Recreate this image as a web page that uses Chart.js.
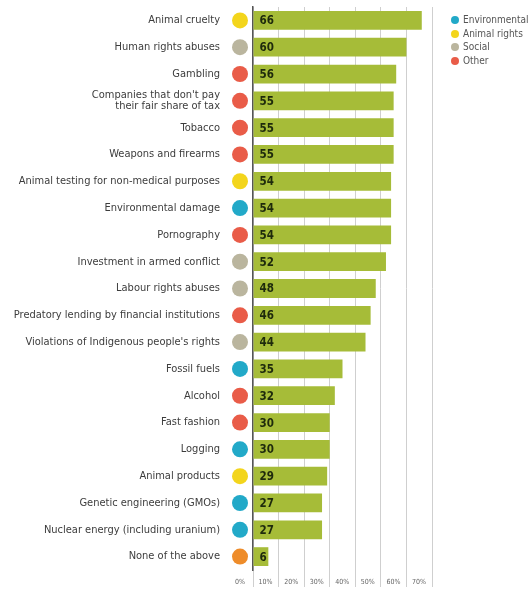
<!DOCTYPE html>
<html>
<head>
<meta charset="utf-8">
<script src="https://cdn.jsdelivr.net/npm/chart.js@4"></script>
<style>
  html, body { margin: 0; padding: 0; background: #fff; }
  #wrap { position: relative; width: 529px; height: 592px; overflow: hidden; }
  #legend { position: absolute; left: 451px; top: 13px; font: condensed 10px "DejaVu Sans", sans-serif; font-stretch: condensed; color: #555; }
  #legend div { height: 13.5px; line-height: 13.5px; white-space: nowrap; }
  #legend span { display: inline-block; width: 8px; height: 8px; border-radius: 50%; margin-right: 4px; vertical-align: -1px; }
</style>
</head>
<body>
<div id="wrap">
  <canvas id="chart" width="529" height="592"></canvas>
  <div id="legend"></div>
</div>
<script>
// Kategorier, värden och grupp per rad
const categories = [
  'Animal cruelty', 'Human rights abuses', 'Gambling',
  ["Companies that don't pay", 'their fair share of tax'],
  'Tobacco', 'Weapons and firearms', 'Animal testing for non-medical purposes',
  'Environmental damage', 'Pornography', 'Investment in armed conflict',
  'Labour rights abuses', 'Predatory lending by financial institutions',
  "Violations of Indigenous people's rights", 'Fossil fuels', 'Alcohol',
  'Fast fashion', 'Logging', 'Animal products', 'Genetic engineering (GMOs)',
  'Nuclear energy (including uranium)', 'None of the above'
];
const values = [66, 60, 56, 55, 55, 55, 54, 54, 54, 52, 48, 46, 44, 35, 32, 30, 30, 29, 27, 27, 6];
const groups = ['Animal rights', 'Social', 'Other', 'Other', 'Other', 'Other', 'Animal rights',
  'Environmental', 'Other', 'Social', 'Social', 'Other', 'Social', 'Environmental', 'Other',
  'Other', 'Environmental', 'Animal rights', 'Environmental', 'Environmental', 'None'];
const xTicks = [0, 10, 20, 30, 40, 50, 60, 70];

const legendNames = ['Environmental', 'Animal rights', 'Social', 'Other'];
const groupColors = {
  'Environmental': '#22a9c8',
  'Animal rights': '#f3d51c',
  'Social': '#bab59e',
  'Other': '#e95c48',
  'None': '#ee8c2a'
};

const FONT = '"DejaVu Sans", sans-serif';

// HTML-legend uppe till höger
const legendEl = document.getElementById('legend');
legendNames.forEach(name => {
  const row = document.createElement('div');
  row.innerHTML = `<span style="background:${groupColors[name]}"></span>${name}`;
  legendEl.appendChild(row);
});

// Plugin: färgade prickar och värden i staplarna
const extras = {
  id: 'extras',
  afterDatasetsDraw(chart) {
    const ctx = chart.ctx;
    const y = chart.scales.y;
    const x = chart.scales.x;
    const meta = chart.getDatasetMeta(0);
    ctx.save();
    values.forEach((v, i) => {
      const py = y.getPixelForValue(i);
      ctx.beginPath();
      ctx.arc(x.getPixelForValue(0) - 13, py, 8, 0, Math.PI * 2);
      ctx.fillStyle = groupColors[groups[i]];
      ctx.fill();
      ctx.fillStyle = '#1e2a0c';
      ctx.font = 'bold condensed 11.5px ' + FONT;
      ctx.textAlign = 'left';
      ctx.textBaseline = 'middle';
      ctx.fillText(String(v), meta.data[i].base + 6, py + 1);
    });
    ctx.restore();
  }
};

new Chart(document.getElementById('chart'), {
  type: 'bar',
  data: {
    labels: categories,
    datasets: [{
      data: values,
      backgroundColor: '#a6bc38',
      barPercentage: 0.7,
      categoryPercentage: 1
    }]
  },
  options: {
    indexAxis: 'y',
    responsive: false,
    animation: false,
    layout: { padding: { top: 7, right: 97, bottom: 2, left: 0 } },
    plugins: { legend: { display: false }, tooltip: { enabled: false } },
    scales: {
      x: {
        min: 0,
        max: 70,
        afterBuildTicks: axis => { axis.ticks = xTicks.map(v => ({ value: v })); },
        afterFit: axis => { axis.height = 20; },
        grid: { color: '#cfcfcf', lineWidth: 1, tickLength: 17, drawTicks: true },
        border: { display: false },
        ticks: {
          callback: v => v + '%',
          font: { family: FONT, size: 7, weight: 'condensed' },
          color: '#666',
          padding: -9,
          labelOffset: -13,
          maxRotation: 0
        }
      },
      y: {
        afterFit: axis => {
          axis.width = 253;
          axis.paddingTop = 0;
          axis.paddingBottom = 0;
        },
        grid: { display: false, drawTicks: false },
        border: { color: '#555', width: 1.5 },
        ticks: {
          font: { family: FONT, size: 11, weight: 'condensed', lineHeight: 1 },
          color: '#3c3c3c',
          padding: 33,
          autoSkip: false
        }
      }
    }
  },
  plugins: [extras]
});
</script>
</body>
</html>
